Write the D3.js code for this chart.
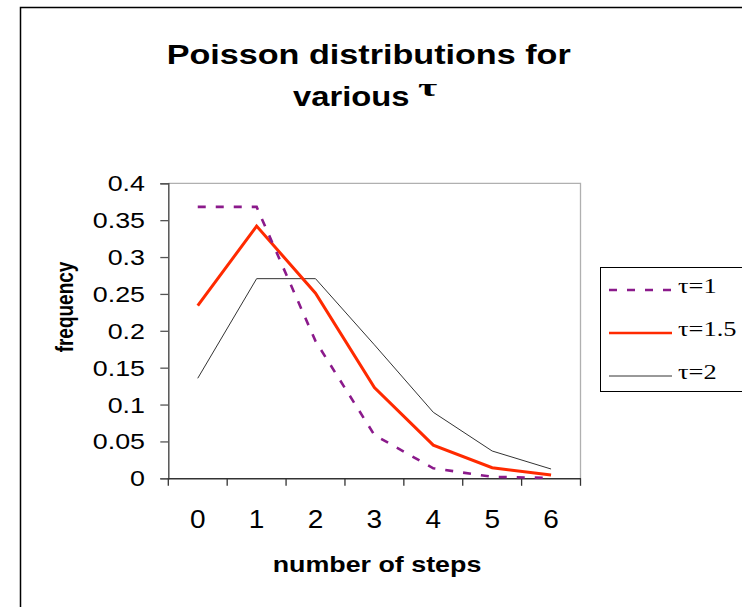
<!DOCTYPE html>
<html><head><meta charset="utf-8">
<script src="https://cdn.jsdelivr.net/npm/d3@7"></script>
<style>html,body{margin:0;padding:0;background:#fff;}</style>
</head><body>
<script>
const categories = ["0","1","2","3","4","5","6"];
const seriesNames = ["τ=1","τ=1.5","τ=2"];
const tau1 = [0.368, 0.368, 0.186, 0.0587, 0.0136, 0.002, 0.0005];
const tau15 = [0.234, 0.342, 0.251, 0.123, 0.045, 0.0144, 0.0045];
const tau2 = [0.1356, 0.2707, 0.2707, 0.181, 0.0895, 0.037, 0.0126];
const yTicks = [0, 0.05, 0.1, 0.15, 0.2, 0.25, 0.3, 0.35, 0.4];
const yTickLabels = ["0","0.05","0.1","0.15","0.2","0.25","0.3","0.35","0.4"];

const W = 742, H = 607, SX = 1.22;
const sans = "'Liberation Sans', Arial, sans-serif";
const serif = "'Liberation Serif', 'Times New Roman', serif";

const svg = d3.select("body").append("svg").attr("width", W).attr("height", H);
svg.append("rect").attr("width", W).attr("height", H).attr("fill", "#fff");
// outer chart border
svg.append("path").attr("d", "M20.5,610 L20.5,7.5 L750,7.5").attr("fill","none").attr("stroke","#000").attr("stroke-width",1.5);

const L = 168.3, R = 580.5, T = 183.3, B = 478.3;
const x = d3.scaleBand().domain(categories).range([L, R]);
const y = d3.scaleLinear().domain([0, 0.4]).range([B, T]);

function stext(g, tx, ty, str, size, weight, anchor, family, sx) {
  return g.append("text")
    .attr("transform", `translate(${tx},${ty}) scale(${sx||SX},1)`)
    .attr("text-anchor", anchor || "middle")
    .attr("font-family", family || sans)
    .attr("font-size", size).attr("font-weight", weight || "normal")
    .attr("fill", "#000").text(str);
}

// plot border top/right
svg.append("path").attr("d", `M${L},${T} L${R},${T} L${R},${B}`).attr("fill","none").attr("stroke","#b0b0b0").attr("stroke-width",1.3);

// y axis
const yAxis = svg.append("g").attr("transform", `translate(${L},0)`)
  .call(d3.axisLeft(y).tickValues(yTicks).tickSize(8).tickFormat(() => ""));
yAxis.select(".domain").attr("stroke", "#555").attr("stroke-width", 1.5);
yAxis.selectAll(".tick line").attr("stroke", "#555").attr("stroke-width", 1.3);
yTicks.forEach((v, i) => {
  stext(svg, 145, y(v) + 8, yTickLabels[i], 22, "normal", "end");
});

// x axis (ticks between categories)
const xAxis = svg.append("g").attr("transform", `translate(0,${B})`)
  .call(d3.axisBottom(x).tickSize(0).tickFormat(() => ""));
xAxis.select(".domain").attr("stroke", "#333").attr("stroke-width", 1.5);
const bounds = categories.map(c => x(c)).concat([R]);
svg.append("g").selectAll("line").data(bounds).join("line")
  .attr("x1", d => d).attr("x2", d => d).attr("y1", B).attr("y2", B + 7.5)
  .attr("stroke", "#333").attr("stroke-width", 1.3);
categories.forEach(c => {
  stext(svg, x(c) + x.bandwidth() / 2, 528, c, 25, "normal", "middle", sans, 1.12);
});

// lines
const line = d3.line().x((d, i) => x(categories[i]) + x.bandwidth() / 2).y(d => y(d));
const series = [
  {name: seriesNames[0], vals: tau1, color: "#8B1A8B", width: 2.6, dash: "8,10"},
  {name: seriesNames[1], vals: tau15, color: "#FF2A00", width: 3, dash: null},
  {name: seriesNames[2], vals: tau2, color: "#333", width: 1, dash: null}
];
[series[2], series[1], series[0]].forEach(s => {
  svg.append("path").datum(s.vals).attr("d", line)
    .attr("fill", "none").attr("stroke", s.color).attr("stroke-width", s.width)
    .attr("stroke-dasharray", s.dash).attr("stroke-linejoin", "miter");
});

// titles
stext(svg, 368.7, 63.5, "Poisson distributions for", 28, "bold", "middle");
stext(svg, 293, 106, "various", 28, "bold", "start", sans, 1.17);
stext(svg, 418, 96, "τ", 26, "bold", "start", serif, 1.6);
stext(svg, 377, 571.5, "number of steps", 22, "bold", "middle");
svg.append("text")
  .attr("transform", "translate(73,307) rotate(-90) scale(1,1.3)")
  .attr("text-anchor", "middle").attr("font-family", sans)
  .attr("font-size", 19).attr("font-weight", "bold").text("frequency");

// legend
const leg = svg.append("g");
leg.append("rect").attr("x", 600.5).attr("y", 267.5).attr("width", 200).attr("height", 124)
  .attr("fill", "#fff").attr("stroke", "#000").attr("stroke-width", 1);
const rowsY = [290, 333, 376];
series.forEach((s, i) => {
  leg.append("line").attr("x1", 609).attr("x2", 672)
    .attr("y1", rowsY[i]).attr("y2", rowsY[i])
    .attr("stroke", s.color).attr("stroke-width", s.dash ? 2.6 : (i === 1 ? 2.5 : 1))
    .attr("stroke-dasharray", s.dash);
  stext(leg, 678, rowsY[i] + 2.5, s.name, 22, "normal", "start", serif, 1.2);
});
</script>
</body></html>
